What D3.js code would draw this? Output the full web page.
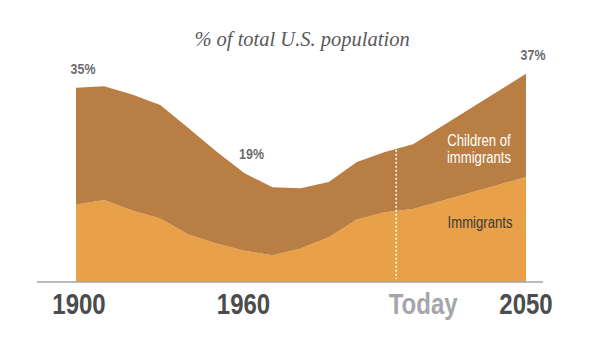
<!DOCTYPE html>
<html>
<head>
<meta charset="utf-8">
<script src="https://cdn.jsdelivr.net/npm/d3@7"></script>
<style>
  body { margin: 0; background: #fff; }
  #svg1 { width: 600px; height: 337px; }
</style>
</head>
<body>
<div id="svg1"></div>
<script>
// share of total U.S. population, %
const years = [1900, 1910, 1920, 1930, 1940, 1950, 1960, 1970, 1980, 1990, 2000, 2010, 2020, 2050];
const immigrants = [13.9, 14.7, 12.8, 11.4, 8.5, 6.9, 5.6, 4.8, 6.0, 8.0, 11.2, 12.5, 13.1, 18.8];
const children = [20.9, 20.4, 20.8, 20.3, 19.1, 16.5, 13.9, 12.2, 10.8, 9.9, 10.3, 10.8, 11.6, 18.5];
const seriesKeys = ['immigrants', 'children'];
const tickYears = [1900, 1960, 2014, 2050];
const tickLabels = ['1900', '1960', 'Today', '2050'];
const callouts = [{year: 1900, label: '35%'}, {year: 1960, label: '19%'}, {year: 2050, label: '37%'}];
const todayYear = 2014;

const svgWidth = 600, svgHeight = 337;
const baseY = 282;

const svg = d3.select('#svg1').append('svg')
    .attr('width', svgWidth).attr('height', svgHeight);

const data = years.map((yr, i) => ({year: yr, immigrants: immigrants[i], children: children[i]}));

// x axis is stretched after 2020 in the original
const x = d3.scaleLinear().domain([1900, 2020, 2050]).range([76, 413, 526]);
const y = d3.scaleLinear().domain([0, 40]).range([baseY, baseY - 223.2]);

const layers = d3.stack().keys(seriesKeys)(data);
const color = {immigrants: '#e8a149', children: '#b97e43'};

const area = d3.area()
    .x(d => x(d.data.year))
    .y0(d => y(d[0]))
    .y1(d => y(d[1]));

svg.append('g').selectAll('path')
    .data(layers)
    .join('path')
    .attr('d', area)
    .attr('fill', d => color[d.key]);

// baseline
svg.append('line')
    .attr('x1', 37).attr('x2', 543)
    .attr('y1', baseY).attr('y2', baseY)
    .attr('stroke', '#a3a3a3').attr('stroke-width', 1.5);

// today marker, runs up to the top of the stack
const topLayer = layers[1];
const totalAt = yr => {
    const i = d3.bisector(d => d.data.year).left(topLayer, yr);
    const a = topLayer[i - 1], b = topLayer[i];
    const t = (yr - a.data.year) / (b.data.year - a.data.year);
    return a[1] + t * (b[1] - a[1]);
};
svg.append('line')
    .attr('x1', x(todayYear)).attr('x2', x(todayYear))
    .attr('y1', y(totalAt(todayYear)) + 1).attr('y2', baseY - 3)
    .attr('stroke', '#fff').attr('stroke-width', 1.5)
    .attr('stroke-dasharray', '2,2');

// year labels (narrowed to look like a condensed face)
const tickShift = [3, -1, 27, 0];
svg.append('g').selectAll('text')
    .data(tickYears)
    .join('text')
    .attr('transform', (d, i) => `translate(${x(d) + tickShift[i]},314) scale(0.8,1)`)
    .attr('text-anchor', 'middle')
    .style('font-family', '"Liberation Sans", Arial, sans-serif')
    .style('font-weight', 'bold')
    .style('font-size', '30px')
    .attr('fill', (d, i) => i === 2 ? '#a4a6a9' : '#4b4c4e')
    .text((d, i) => tickLabels[i]);

// total % callouts
svg.append('g').selectAll('text')
    .data(callouts)
    .join('text')
    .attr('transform', d => {
        const row = data.find(r => r.year === d.year);
        return `translate(${x(d.year) + 7},${y(row.immigrants + row.children) - 14}) scale(0.8,1)`;
    })
    .attr('text-anchor', 'middle')
    .style('font-family', '"Liberation Sans", Arial, sans-serif')
    .style('font-weight', 'bold')
    .style('font-size', '15.5px')
    .attr('fill', '#6b6c6f')
    .text(d => d.label);

// series labels
const seriesText = [
    {lines: ['Children of', 'immigrants'], x: 479, y: 146, fill: '#fff'},
    {lines: ['Immigrants'], x: 480, y: 228, fill: '#3a3a3a'}
];
seriesText.forEach(s => {
    s.lines.forEach((ln, j) => {
        svg.append('text')
            .attr('transform', `translate(${s.x},${s.y + j * 17}) scale(0.82,1)`)
            .attr('text-anchor', 'middle')
            .style('font-family', '"Liberation Sans", Arial, sans-serif')
            .style('font-size', '16px')
            .attr('fill', s.fill)
            .text(ln);
    });
});

// title
svg.append('text')
    .attr('x', 302).attr('y', 46)
    .attr('text-anchor', 'middle')
    .style('font-family', '"Liberation Serif", "DejaVu Serif", serif')
    .style('font-style', 'italic')
    .style('font-size', '20.5px')
    .attr('fill', '#58595c')
    .text('% of total U.S. population');
</script>
</body>
</html>
